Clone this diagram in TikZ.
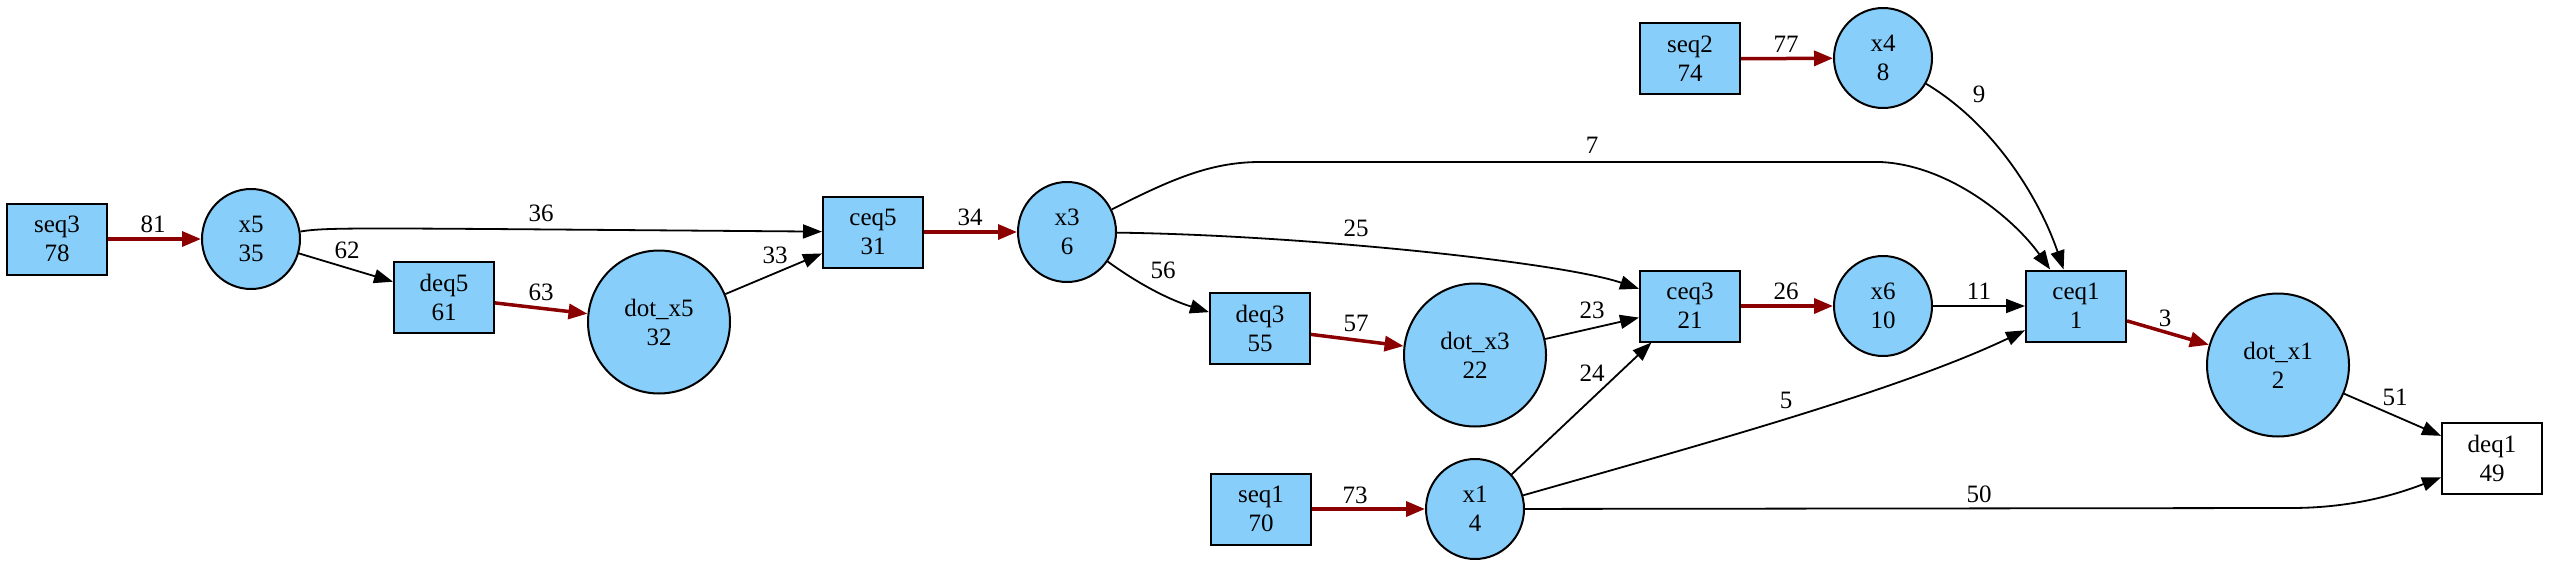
\documentclass[tikz,border=0pt]{standalone}
\usepackage{fontspec}
\setmainfont{Liberation Serif}
\usetikzlibrary{shapes.geometric,arrows.meta}
\definecolor{nodeblue}{HTML}{87CEFA}
\definecolor{edgered}{HTML}{8B0000}
\begin{document}
\begin{tikzpicture}[x=1pt,y=-1pt,
  font=\fontsize{25}{29}\selectfont,
  boxnode/.style={draw, line width=2pt, fill=nodeblue, rectangle, minimum width=100pt, minimum height=71pt, inner sep=0pt, align=center},
  whitebox/.style={boxnode, fill=white},
  varnode/.style={draw, line width=2pt, fill=nodeblue, ellipse, minimum width=98pt, minimum height=100pt, inner sep=0pt, align=center},
  dotnode/.style={varnode, minimum width=142pt, minimum height=143pt},
  blackedge/.style={line width=1.8pt, -{Triangle[length=19pt,width=14pt]}},
  redgeedge/.style={line width=3.5pt, draw=edgered, -{Triangle[length=19pt,width=15pt]}},
  lbl/.style={inner sep=0pt}
]
\useasboundingbox (0,0) rectangle (2550,567);

% nodes
\node[boxnode] (seq3) at (57,239) {seq3\\78};
\node[varnode] (x5) at (251,239) {x5\\35};
\node[boxnode] (deq5) at (444,297) {deq5\\61};
\node[dotnode] (dotx5) at (659,322) {dot\_x5\\32};
\node[boxnode] (ceq5) at (873,232) {ceq5\\31};
\node[varnode] (x3) at (1067,232) {x3\\6};
\node[boxnode] (deq3) at (1260,328) {deq3\\55};
\node[dotnode] (dotx3) at (1475,355) {dot\_x3\\22};
\node[boxnode] (ceq3) at (1690,306) {ceq3\\21};
\node[boxnode] (seq1) at (1261,509) {seq1\\70};
\node[varnode] (x1) at (1475,509) {x1\\4};
\node[boxnode] (seq2) at (1690,59) {seq2\\74};
\node[varnode] (x4) at (1883,58) {x4\\8};
\node[varnode] (x6) at (1883,306) {x6\\10};
\node[boxnode] (ceq1) at (2076,306) {ceq1\\1};
\node[dotnode] (dotx1) at (2278,365) {dot\_x1\\2};
\node[whitebox] (deq1) at (2492,458) {deq1\\49};

% edges
\draw[redgeedge] (seq3) -- (x5);
\draw[blackedge] (x5) .. controls (330,227) and (350,228) .. (ceq5);
\draw[blackedge] (x5) -- (deq5);
\draw[redgeedge] (deq5) -- (dotx5);
\draw[blackedge] (dotx5) -- (ceq5);
\draw[redgeedge] (ceq5) -- (x3);
\draw[blackedge] (x3) .. controls (1170,180) and (1210,162) .. (1260,162) -- (1880,162) .. controls (1950,165) and (2015,220) .. (ceq1);
\draw[blackedge] (x3) .. controls (1300,235) and (1560,262) .. (ceq3);
\draw[blackedge] (x3) .. controls (1140,285) and (1170,300) .. (deq3);
\draw[redgeedge] (deq3) -- (dotx3);
\draw[blackedge] (dotx3) -- (ceq3);
\draw[blackedge] (x1) -- (ceq3);
\draw[blackedge] (x1) .. controls (1700,445) and (1900,390) .. (ceq1);
\draw[blackedge] (x1) -- (2291,508) .. controls (2355,508) and (2400,493) .. (deq1);
\draw[redgeedge] (seq1) -- (x1);
\draw[redgeedge] (seq2) -- (x4);
\draw[blackedge] (x4) .. controls (1995,125) and (2040,200) .. (ceq1);
\draw[redgeedge] (ceq3) -- (x6);
\draw[blackedge] (x6) -- (ceq1);
\draw[redgeedge] (ceq1) -- (dotx1);
\draw[blackedge] (dotx1) -- (deq1);

% labels
\node[lbl] (l81) at (153,224) {81};
\node[lbl] (l36) at (541,213) {36};
\node[lbl] (l62) at (347,250) {62};
\node[lbl] (l63) at (541,292) {63};
\node[lbl] (l33) at (775,255) {33};
\node[lbl] (l34) at (970,217) {34};
\node[lbl] (l7) at (1592,145) {7};
\node[lbl] (l25) at (1356,228) {25};
\node[lbl] (l56) at (1163,270) {56};
\node[lbl] (l57) at (1356,323) {57};
\node[lbl] (l23) at (1592,310) {23};
\node[lbl] (l24) at (1592,373) {24};
\node[lbl] (l73) at (1355,495) {73};
\node[lbl] (l50) at (1979,494) {50};
\node[lbl] (l5) at (1786,400) {5};
\node[lbl] (l77) at (1786,44) {77};
\node[lbl] (l9) at (1979,94) {9};
\node[lbl] (l26) at (1786,291) {26};
\node[lbl] (l11) at (1979,291) {11};
\node[lbl] (l3) at (2165,318) {3};
\node[lbl] (l51) at (2395,397) {51};
\end{tikzpicture}
\end{document}
